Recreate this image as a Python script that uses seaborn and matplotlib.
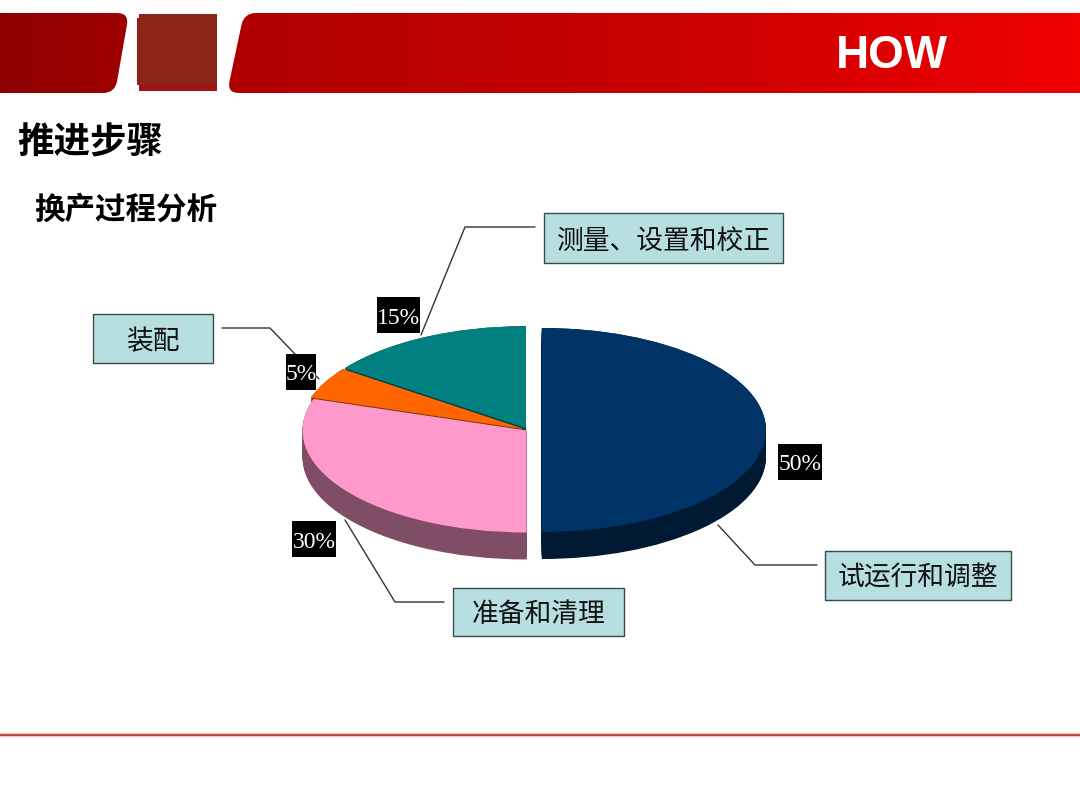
import numpy as np
import matplotlib
matplotlib.use("Agg")
import matplotlib.pyplot as plt
import seaborn as sns
from matplotlib.colors import LinearSegmentedColormap
from matplotlib.patches import PathPatch, Rectangle
from matplotlib.path import Path

# chart data
steps = ["试运行和调整", "准备和清理", "装配", "测量、设置和校正"]
shares = [50, 30, 5, 15]
top_colors = ["#003366", "#FF99CC", "#FF6600", "#008080"]
explode = [0.062, 0.008, 0.02, 0.02]

page_title = "推进步骤"
sub_title = "换产过程分析"
header_word = "HOW"

sns.set_theme(style="white")
plt.rcParams["font.family"] = ["Noto Sans CJK SC", "DejaVu Sans"]

W, H = 1080, 810
fig = plt.figure(figsize=(W / 100, H / 100), dpi=100, facecolor="white")

# pie axes: one unit is 224 px across and 102 px down, centre at (528, 430)
rx, ry = 224, 102
cx, cy = 528, 430
x_lim = (-1.25, 1.25)
y_lim = (-1.6, 1.25)
ax_w = (x_lim[1] - x_lim[0]) * rx
ax_h = (y_lim[1] - y_lim[0]) * ry
ax_left = cx + x_lim[0] * rx
ax_bottom = H - (cy - y_lim[0] * ry)
ax = fig.add_axes([ax_left / W, ax_bottom / H, ax_w / W, ax_h / H], zorder=1)

palette = sns.color_palette(top_colors)
side_colors = [tuple(c * 0.5 for c in col) for col in palette]
depth = 27 / ry

# the rim is a stack of darker pies, then the top face over it
for d in np.linspace(depth, 0, 40):
    ax.pie(shares, colors=side_colors, explode=explode, startangle=90, counterclock=False,
           center=(0, -d), radius=1, wedgeprops={"linewidth": 0.4, "edgecolor": "none"})
ax.pie(shares, colors=palette, explode=explode, startangle=90, counterclock=False,
       center=(0, 0), radius=1, wedgeprops={"linewidth": 0})
ax.set_aspect("auto")
ax.set_xlim(*x_lim)
ax.set_ylim(*y_lim)
ax.set_axis_off()

# page overlay in pixel coordinates
page = fig.add_axes([0, 0, 1, 1], zorder=2)
page.patch.set_alpha(0)
page.set_axis_off()


def band_path(points, r=12):
    """Closed polygon with rounded corners."""
    verts, codes = [], []
    n = len(points)
    for i in range(n):
        p = np.array(points[i], float)
        a = np.array(points[i - 1], float)
        b = np.array(points[(i + 1) % n], float)
        r_here = r if 0 < p[0] < W else 0
        p_in = p + (a - p) / np.linalg.norm(a - p) * r_here
        p_out = p + (b - p) / np.linalg.norm(b - p) * r_here
        verts += [tuple(p_in), tuple(p), tuple(p_out)]
        codes += [Path.MOVETO if i == 0 else Path.LINETO, Path.CURVE3, Path.CURVE3]
    verts.append(verts[0])
    codes.append(Path.CLOSEPOLY)
    return Path(verts, codes)


red_map = LinearSegmentedColormap.from_list(
    "hdr", [(0, "#8E0000"), (0.12, "#A00000"), (0.22, "#B00000"), (0.65, "#CC0000"), (1, "#F00000")])
for pts in ([(0, 13), (129, 13), (115, 93), (0, 93)],
            [(244, 13), (W, 13), (W, 93), (227, 93)]):
    img = page.imshow(np.linspace(0, 1, 256).reshape(1, -1), cmap=red_map, aspect="auto",
                      extent=(0, W, 93, 13), zorder=1)
    patch = PathPatch(band_path(pts), fc="none", ec="none", transform=page.transData)
    page.add_patch(patch)
    img.set_clip_path(patch)

page.add_patch(Rectangle((139, 14), 78, 77, fc="#A01515", ec="none", zorder=2))
page.add_patch(Rectangle((139, 14), 78, 71, fc="#8C241A", ec="none", zorder=3))
page.add_patch(Rectangle((137, 18), 4, 67, fc="#8C241A", ec="none", zorder=3))

page.set_xlim(0, W)
page.set_ylim(H, 0)

page.text(892, 56, header_word, color="white", fontsize=33, fontweight="bold",
          family=["Liberation Sans"], ha="center", va="center", zorder=5)
page.text(17, 143, page_title, color="black", fontsize=26.3, fontweight="bold",
          ha="left", va="center")
page.text(34, 210, sub_title, color="black", fontsize=22, fontweight="bold",
          ha="left", va="center")

# footer rule
page.plot([0, W], [735, 735], color="#F6C9C0", lw=3.2, solid_capstyle="butt", zorder=1)
page.plot([0, W], [735, 735], color="#B5493A", lw=1.4, solid_capstyle="butt", zorder=2)

# callout boxes with their leader lines, same order as steps
box_fill = "#B7DEE0"
boxes = [(825, 551, 186, 49), (453, 588, 171, 48), (93, 314, 120, 49), (544, 213, 239, 50)]
leaders = [[(718, 525), (755, 565), (817, 565)],
           [(345, 520), (395, 602), (444, 602)],
           [(222, 328), (270, 328), (319, 379)],
           [(535, 227), (465, 227), (421, 335)]]
for name, (bx, by, bw, bh), line in zip(steps, boxes, leaders):
    page.add_patch(Rectangle((bx, by), bw, bh, fc=box_fill, ec="#3A4A4A", lw=1.0, zorder=4))
    page.text(bx + bw / 2, by + bh / 2 + 3, name, color="#111111", fontsize=19.3,
              ha="center", va="center", zorder=5)
    xs, ys = zip(*line)
    page.plot(xs, ys, color="#333333", lw=1.0, zorder=3)

# percent tags
tags = [(778, 444, 44, 36), (292, 521, 44, 36), (286, 354, 30, 36), (377, 297, 43, 36)]
for val, (tx, ty, tw, th) in zip(shares, tags):
    page.add_patch(Rectangle((tx, ty), tw, th, fc="black", ec="none", zorder=6))
    page.text(tx + tw / 2, ty + th / 2 + 3, f"{val}%", color="white", fontsize=17,
              family=["Liberation Serif"], ha="center", va="center", zorder=7)

fig.savefig("out.png", dpi=100, facecolor="white")
plt.close(fig)
